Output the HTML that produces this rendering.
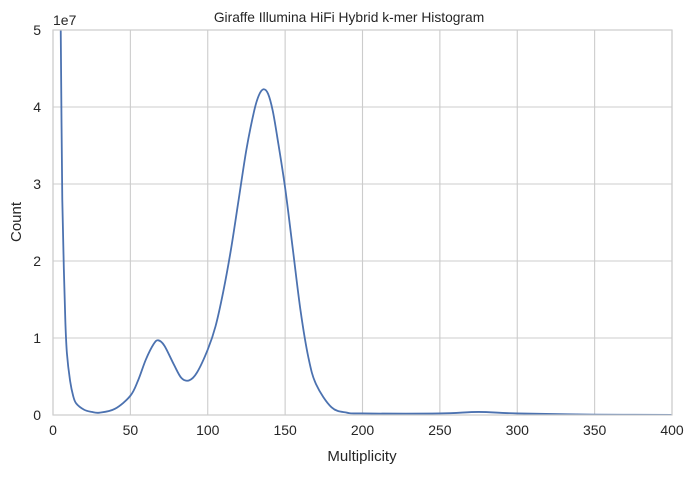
<!DOCTYPE html>
<html><head><meta charset="utf-8"><style>
body{margin:0;background:#fff;font-family:"Liberation Sans",sans-serif;}
svg text{font-family:"Liberation Sans",sans-serif;fill:#262626;}
</style></head><body>
<svg id="chart" width="695" height="473">
<defs><clipPath id="clip"><rect x="53" y="30" width="619" height="385"/></clipPath></defs>
<g id="grid"></g>
<g id="ticks"></g>
<path id="curve" clip-path="url(#clip)" fill="none" stroke="#4c72b0" stroke-width="1.8"/>
<rect x="53" y="30" width="619" height="385" fill="none" stroke="#cccccc" stroke-width="1.2"/>
<text x="349" y="22" text-anchor="middle" font-size="13.8">Giraffe Illumina HiFi Hybrid k-mer Histogram</text>
<text x="362" y="461" text-anchor="middle" font-size="15">Multiplicity</text>
<text transform="translate(21,222) rotate(-90)" text-anchor="middle" font-size="15">Count</text>
<text x="53" y="25" font-size="14">1e7</text>
</svg>
<script>
const xTicks=[0,50,100,150,200,250,300,350,400];
const yTicks=[0,1,2,3,4,5];
const multiplicity=[4.5,5,5.5,6,7,8,9,11,13,15,20,25,30,40,50,55,60,65,68,72,78,83,88,93,100,105,110,115,120,125,130,133,136,139,142,145,150,155,160,165,170,180,190,200,250,275,300,350,400];
const counts=[6.5,5.0,3.8,2.8,1.9,1.2,0.8,0.45,0.25,0.15,0.07,0.04,0.03,0.08,0.25,0.45,0.72,0.92,0.97,0.9,0.66,0.48,0.45,0.55,0.85,1.15,1.6,2.15,2.8,3.45,3.95,4.15,4.23,4.17,3.95,3.6,2.95,2.15,1.35,0.75,0.4,0.1,0.03,0.02,0.02,0.04,0.02,0.005,0.002];
const X0=53,X1=672,Y0=415,Y1=30;
const sx=v=>X0+(v-0)/400*(X1-X0);
const sy=v=>Y0-(v-0)/5*(Y0-Y1);
const NS="http://www.w3.org/2000/svg";
const grid=document.getElementById('grid'),ticks=document.getElementById('ticks');
xTicks.forEach(t=>{
 const l=document.createElementNS(NS,'line');
 l.setAttribute('x1',sx(t));l.setAttribute('x2',sx(t));l.setAttribute('y1',Y1);l.setAttribute('y2',Y0);
 l.setAttribute('stroke','#cccccc');l.setAttribute('stroke-width','1.1');
 
 
 grid.appendChild(l);
 const tx=document.createElementNS(NS,'text');
 tx.setAttribute('x',sx(t));tx.setAttribute('y',Y0+20);tx.setAttribute('text-anchor','middle');tx.setAttribute('font-size','14');
 tx.textContent=t;
 
 
 ticks.appendChild(tx);
});
yTicks.forEach(t=>{
 const l=document.createElementNS(NS,'line');
 l.setAttribute('x1',X0);l.setAttribute('x2',X1);l.setAttribute('y1',sy(t));l.setAttribute('y2',sy(t));
 l.setAttribute('stroke','#cccccc');l.setAttribute('stroke-width','1.1');
 
 
 grid.appendChild(l);
 const tx=document.createElementNS(NS,'text');
 tx.setAttribute('x',X0-12);tx.setAttribute('y',sy(t)+5);tx.setAttribute('text-anchor','end');tx.setAttribute('font-size','14');
 tx.textContent=t;
 
 
 ticks.appendChild(tx);
});
const pts=multiplicity.map((m,i)=>[sx(m),sy(counts[i])]);
let d='M'+pts[0][0]+','+pts[0][1];
for(let i=0;i<pts.length-1;i++){
 const p0=pts[Math.max(0,i-1)],p1=pts[i],p2=pts[i+1],p3=pts[Math.min(pts.length-1,i+2)];
 const c1=[p1[0]+(p2[0]-p0[0])/6,p1[1]+(p2[1]-p0[1])/6];
 const c2=[p2[0]-(p3[0]-p1[0])/6,p2[1]-(p3[1]-p1[1])/6];
 d+=`C${c1[0]},${c1[1]} ${c2[0]},${c2[1]} ${p2[0]},${p2[1]}`;
}
document.getElementById('curve').setAttribute('d',d);
</script>
</body></html>
